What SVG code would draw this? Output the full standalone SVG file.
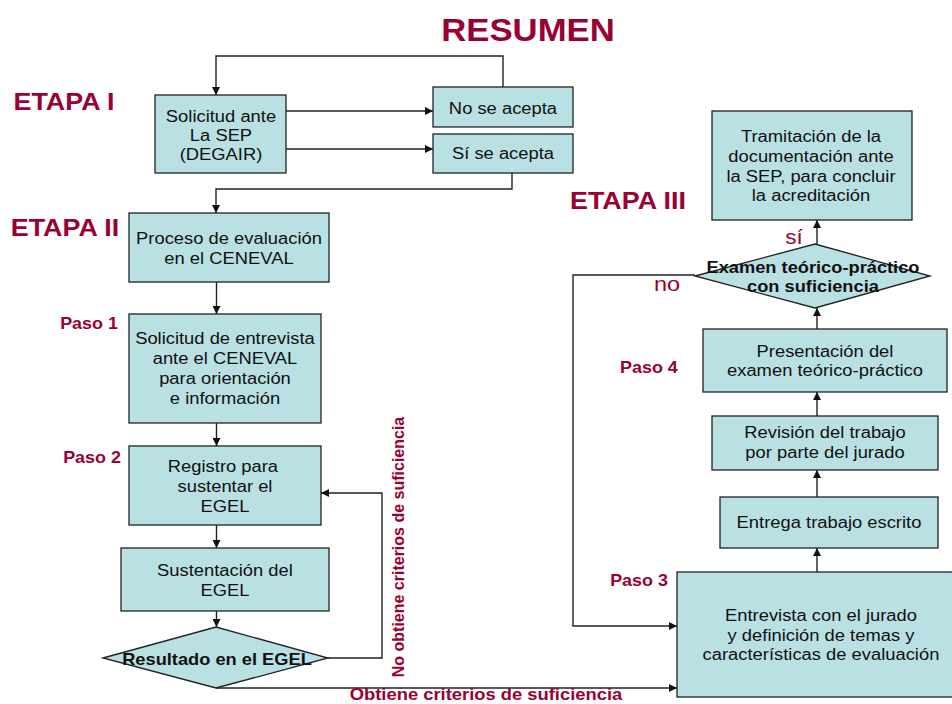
<svg xmlns="http://www.w3.org/2000/svg" width="952" height="704" viewBox="0 0 952 704">
<defs>
<marker id="arr" viewBox="0 0 10 10" refX="10" refY="5" markerWidth="9" markerHeight="8" markerUnits="userSpaceOnUse" orient="auto">
<path d="M0,0 L10,5 L0,10 z" fill="#111"/>
</marker>
<style>
.box{fill:#B9E0E3;stroke:#222;stroke-width:1.3}
.t{font-family:"Liberation Sans",Arial,sans-serif;font-size:16.4px;fill:#111;text-anchor:middle;transform-box:fill-box;transform-origin:center;transform:scaleX(1.12)}
.b{font-family:"Liberation Sans",Arial,sans-serif;font-weight:bold;font-size:16.3px;fill:#111;text-anchor:middle;transform-box:fill-box;transform-origin:center;transform:scaleX(1.12)}
.r{font-family:"Liberation Sans",Arial,sans-serif;font-weight:bold;fill:#990033;text-anchor:middle;transform-box:fill-box;transform-origin:center;transform:scaleX(1.12)}
.rv{font-family:"Liberation Sans",Arial,sans-serif;font-weight:bold;font-size:16px;fill:#990033;text-anchor:middle}
.rn{font-family:"Liberation Sans",Arial,sans-serif;fill:#990033;text-anchor:middle;transform-box:fill-box;transform-origin:center;transform:scaleX(1.12)}
.ca{fill:none;stroke:#222;stroke-width:1.4;marker-end:url(#arr)}
</style>
</defs>
<rect width="952" height="704" fill="#fff"/>

<g id="labels">
<text class="r" x="528" y="41" style="font-size:31px">RESUMEN</text>
<text class="r" x="64" y="110" style="font-size:24px">ETAPA I</text>
<text class="r" x="65" y="236" style="font-size:24px">ETAPA II</text>
<text class="r" x="628" y="209" style="font-size:24px">ETAPA III</text>
<text class="r" x="89" y="329" style="font-size:16px">Paso 1</text>
<text class="r" x="92" y="463" style="font-size:16px">Paso 2</text>
<text class="r" x="639" y="586" style="font-size:16px">Paso 3</text>
<text class="r" x="649" y="373" style="font-size:16px">Paso 4</text>
</g>

<g id="connectors">
<polyline class="ca" points="503,88 503,56 216,56 216,95"/>
<line class="ca" x1="286" y1="111" x2="433" y2="111"/>
<line class="ca" x1="286" y1="149" x2="433" y2="149"/>
<polyline class="ca" points="512,173 512,189 216,189 216,213"/>
<line class="ca" x1="216.5" y1="282" x2="216.5" y2="314"/>
<line class="ca" x1="216.5" y1="423" x2="216.5" y2="446"/>
<line class="ca" x1="216.5" y1="525" x2="216.5" y2="548"/>
<line class="ca" x1="216.5" y1="611" x2="216.5" y2="627"/>
<polyline class="ca" points="328,658 382,658 382,493 321,493"/>
<polyline class="ca" points="216,688 677,688"/>
<polyline class="ca" points="695,275 573,275 573,626 677,626"/>
<line class="ca" x1="817" y1="572" x2="817" y2="548"/>
<line class="ca" x1="817" y1="497" x2="817" y2="470"/>
<line class="ca" x1="817" y1="416" x2="817" y2="392"/>
<line class="ca" x1="817" y1="329" x2="817" y2="308"/>
<line class="ca" x1="817" y1="244" x2="817" y2="220"/>
<text class="rv" x="404" y="547" transform="rotate(-90 404 547)">No obtiene criterios de suficiencia</text>
<text class="r" x="486" y="700" style="font-size:16.4px">Obtiene criterios de suficiencia</text>
<text class="rn" x="794" y="244" style="font-size:20px">sí</text>
<text class="rn" x="667" y="291" style="font-size:21px">no</text>
</g>

<g id="n-solicitud">
<rect class="box" x="155" y="95" width="131" height="78"/>
<text class="t" x="221" y="122">Solicitud ante</text>
<text class="t" x="221" y="141">La SEP</text>
<text class="t" x="221" y="160">(DEGAIR)</text>
</g>
<g id="n-noacepta">
<rect class="box" x="433" y="87" width="140" height="40"/>
<text class="t" x="503" y="114">No se acepta</text>
</g>
<g id="n-siacepta">
<rect class="box" x="433" y="134" width="140" height="39"/>
<text class="t" x="503" y="159">Sí se acepta</text>
</g>
<g id="n-proceso">
<rect class="box" x="129" y="213" width="200" height="69"/>
<text class="t" x="229" y="244">Proceso de evaluación</text>
<text class="t" x="229" y="264">en el CENEVAL</text>
</g>
<g id="n-entrevista-ceneval">
<rect class="box" x="129" y="314" width="192" height="109"/>
<text class="t" x="225" y="344">Solicitud de entrevista</text>
<text class="t" x="225" y="364">ante el CENEVAL</text>
<text class="t" x="225" y="384">para orientación</text>
<text class="t" x="225" y="404">e información</text>
</g>
<g id="n-registro">
<rect class="box" x="129" y="446" width="192" height="79"/>
<text class="t" x="223" y="472">Registro para</text>
<text class="t" x="225" y="492">sustentar el</text>
<text class="t" x="225" y="512">EGEL</text>
</g>
<g id="n-sustentacion">
<rect class="box" x="121" y="548" width="208" height="63"/>
<text class="t" x="225" y="576">Sustentación del</text>
<text class="t" x="225" y="596">EGEL</text>
</g>
<g id="n-resultado">
<polygon class="box" points="103,658 216,627 328,658 216,688"/>
<text class="b" x="217" y="665">Resultado en el EGEL</text>
</g>
<g id="n-entrevista-jurado">
<rect class="box" x="677" y="572" width="285" height="125"/>
<text class="t" x="821" y="621">Entrevista con el jurado</text>
<text class="t" x="821" y="641">y definición de temas y</text>
<text class="t" x="821" y="660">características de evaluación</text>
</g>
<g id="n-entrega">
<rect class="box" x="720" y="497" width="218" height="51"/>
<text class="t" x="829" y="528">Entrega trabajo escrito</text>
</g>
<g id="n-revision">
<rect class="box" x="712" y="416" width="226" height="54"/>
<text class="t" x="825" y="438">Revisión del trabajo</text>
<text class="t" x="825" y="458">por parte del jurado</text>
</g>
<g id="n-presentacion">
<rect class="box" x="703" y="329" width="244" height="63"/>
<text class="t" x="825" y="357">Presentación del</text>
<text class="t" x="825" y="376">examen teórico-práctico</text>
</g>
<g id="n-examen">
<polygon class="box" points="695,276 815,244 930,276 815,308"/>
<text class="b" x="813" y="273">Examen teórico-práctico</text>
<text class="b" x="813" y="292">con suficiencia</text>
</g>
<g id="n-tramitacion">
<rect class="box" x="712" y="111" width="200" height="109"/>
<text class="t" x="811" y="142">Tramitación de la</text>
<text class="t" x="811" y="162">documentación ante</text>
<text class="t" x="811" y="182">la SEP, para concluir</text>
<text class="t" x="811" y="201">la acreditación</text>
</g>
</svg>
